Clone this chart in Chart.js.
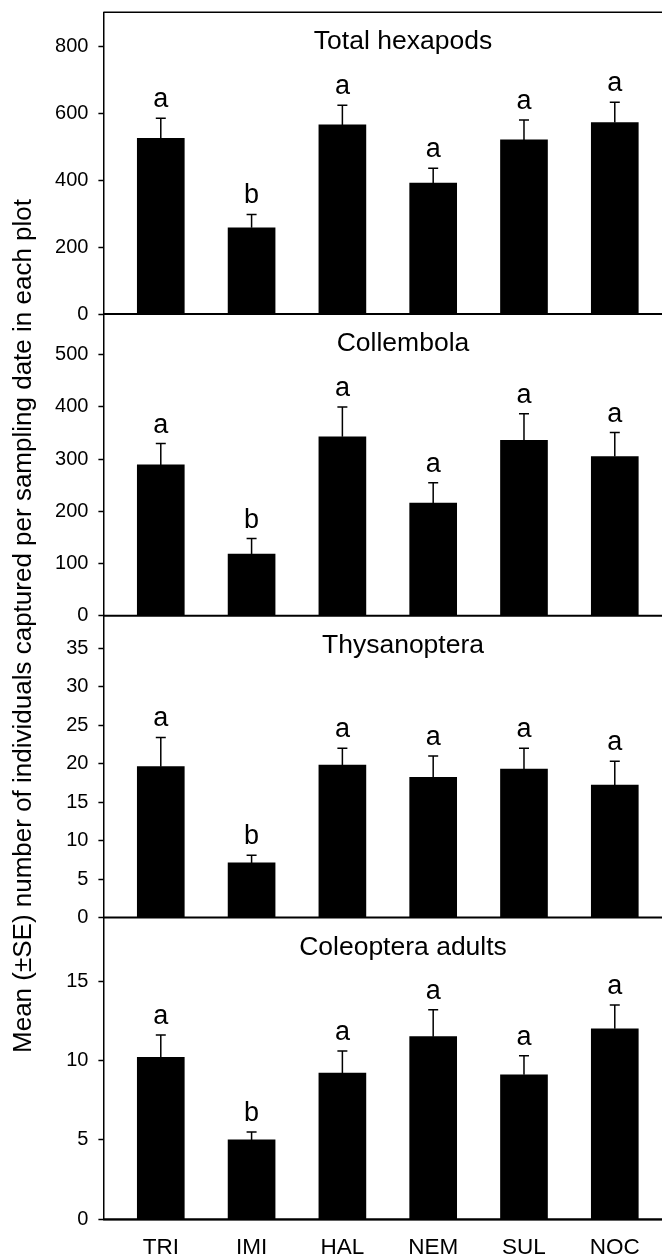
<!DOCTYPE html>
<html>
<head>
<meta charset="utf-8">
<script src="https://cdn.jsdelivr.net/npm/chart.js@4.4.0/dist/chart.umd.min.js"></script>
<style>
  html, body { margin: 0; padding: 0; background: #fff; }
  canvas { display: block; }
</style>
</head>
<body>
<canvas id="chart" width="662" height="1256"></canvas>
<script>
const categories = ['TRI', 'IMI', 'HAL', 'NEM', 'SUL', 'NOC'];

const hexapodMean = [526, 258, 566, 392, 521, 573];
const hexapodSE = [60, 40, 59, 44, 60, 61];
const hexapodLetters = ['a', 'b', 'a', 'a', 'a', 'a'];
const hexapodTicks = [0, 200, 400, 600, 800];

const collembolaMean = [289, 118, 343, 216, 336, 305];
const collembolaSE = [41, 30, 57, 39, 51, 46];
const collembolaLetters = ['a', 'b', 'a', 'a', 'a', 'a'];
const collembolaTicks = [0, 100, 200, 300, 400, 500];

const thysanopteraMean = [19.6, 7.1, 19.8, 18.2, 19.3, 17.2];
const thysanopteraSE = [3.8, 1.0, 2.2, 2.8, 2.7, 3.1];
const thysanopteraLetters = ['a', 'b', 'a', 'a', 'a', 'a'];
const thysanopteraTicks = [0, 5, 10, 15, 20, 25, 30, 35];

const coleopteraMean = [10.2, 5.0, 9.2, 11.5, 9.1, 12.0];
const coleopteraSE = [1.4, 0.5, 1.4, 1.7, 1.2, 1.5];
const coleopteraLetters = ['a', 'b', 'a', 'a', 'a', 'a'];
const coleopteraTicks = [0, 5, 10, 15];

const panelTitles = ['Total hexapods', 'Collembola', 'Thysanoptera', 'Coleoptera adults'];
const panelMax = [903, 578, 39.2, 19];
const yTitle = 'Mean (\u00B1SE) number of individuals captured per sampling date in each plot';

const panels = [
  { id: 'yHex', mean: hexapodMean, se: hexapodSE, letters: hexapodLetters, ticks: hexapodTicks },
  { id: 'yColl', mean: collembolaMean, se: collembolaSE, letters: collembolaLetters, ticks: collembolaTicks },
  { id: 'yThy', mean: thysanopteraMean, se: thysanopteraSE, letters: thysanopteraLetters, ticks: thysanopteraTicks },
  { id: 'yCol', mean: coleopteraMean, se: coleopteraSE, letters: coleopteraLetters, ticks: coleopteraTicks }
];

const FONT = "'Liberation Sans', Arial, sans-serif";
Chart.defaults.font.family = FONT;
Chart.defaults.color = '#000';

// scales on the left are stacked top-down in reverse definition order,
// so define the bottom panel first
const scales = {
  x: {
    type: 'linear',
    offset: false,
    min: -0.632,
    max: 5.52,
    afterBuildTicks: s => { s.ticks = categories.map((c, i) => ({ value: i })); },
    afterFit: s => {
      s.height = 36.7;
      s.paddingLeft = 0;
      s.paddingRight = 0;
    },
    grid: { display: false, drawTicks: false },
    border: { display: true, color: '#000', width: 1.5 },
    ticks: {
      color: '#000',
      padding: 15,
      font: { size: 22.5 },
      maxRotation: 0,
      autoSkip: false,
      callback: v => categories[v]
    }
  }
};
for (let k = panels.length - 1; k >= 0; k--) {
  const p = panels[k];
  scales[p.id] = {
    type: 'linear',
    position: 'left',
    stack: 'panels',
    stackWeight: 1,
    min: 0,
    max: panelMax[k],
    afterBuildTicks: s => { s.ticks = p.ticks.map(v => ({ value: v })); },
    afterFit: s => {
      s.width = 103.4;
      // no extra room for half labels, panels touch each other
      s.paddingTop = 0;
      s.paddingBottom = 0;
    },
    grid: { drawOnChartArea: false, tickLength: 5, tickColor: '#000', tickWidth: 1.5 },
    border: { display: true, color: '#000', width: 1.5 },
    ticks: { color: '#000', padding: 10, autoSkip: false, font: { size: 20 } }
  };
}

const extras = {
  id: 'extras',
  afterDatasetsDraw(chart) {
    const ctx = chart.ctx;
    const area = chart.chartArea;
    ctx.save();
    ctx.strokeStyle = '#000';
    ctx.fillStyle = '#000';

    panels.forEach((p, k) => {
      const scale = chart.scales[p.id];
      const meta = chart.getDatasetMeta(k);

      // error bars (upper only) and letters
      meta.data.forEach((bar, i) => {
        const yTop = scale.getPixelForValue(p.mean[i] + p.se[i]);
        ctx.lineWidth = 1.5;
        ctx.beginPath();
        ctx.moveTo(bar.x, bar.y);
        ctx.lineTo(bar.x, yTop);
        ctx.moveTo(bar.x - 5, yTop);
        ctx.lineTo(bar.x + 5, yTop);
        ctx.stroke();

        ctx.font = '27px ' + FONT;
        ctx.textAlign = 'center';
        ctx.textBaseline = 'alphabetic';
        ctx.fillText(p.letters[i], bar.x, yTop - 11);
      });

      // baseline of the panel
      const y0 = scale.getPixelForValue(0);
      ctx.lineWidth = 2;
      ctx.beginPath();
      ctx.moveTo(area.left, y0);
      ctx.lineTo(area.right, y0);
      ctx.stroke();

      // panel title
      ctx.font = '26.5px ' + FONT;
      ctx.textAlign = 'center';
      ctx.textBaseline = 'alphabetic';
      ctx.fillText(panelTitles[k], 403, scale.top + 37);
    });

    // top frame line
    ctx.lineWidth = 1.5;
    ctx.beginPath();
    ctx.moveTo(area.left, area.top);
    ctx.lineTo(area.right, area.top);
    ctx.stroke();

    // shared y axis title
    ctx.translate(24, 626);
    ctx.rotate(-Math.PI / 2);
    ctx.font = '26px ' + FONT;
    ctx.textAlign = 'center';
    ctx.textBaseline = 'middle';
    ctx.fillText(yTitle, 0, 0);
    ctx.restore();
  }
};

new Chart(document.getElementById('chart'), {
  type: 'bar',
  data: {
    datasets: panels.map((p, k) => ({
      data: p.mean.map((v, i) => ({ x: i, y: v })),
      yAxisID: p.id,
      backgroundColor: '#000',
      borderWidth: 0,
      barThickness: 47,
      grouped: false
    }))
  },
  options: {
    responsive: false,
    animation: false,
    layout: { padding: { top: 12.3, right: 0, bottom: 0, left: 0 } },
    plugins: {
      legend: { display: false },
      tooltip: { enabled: false }
    },
    scales: scales
  },
  plugins: [extras]
});
</script>
</body>
</html>
